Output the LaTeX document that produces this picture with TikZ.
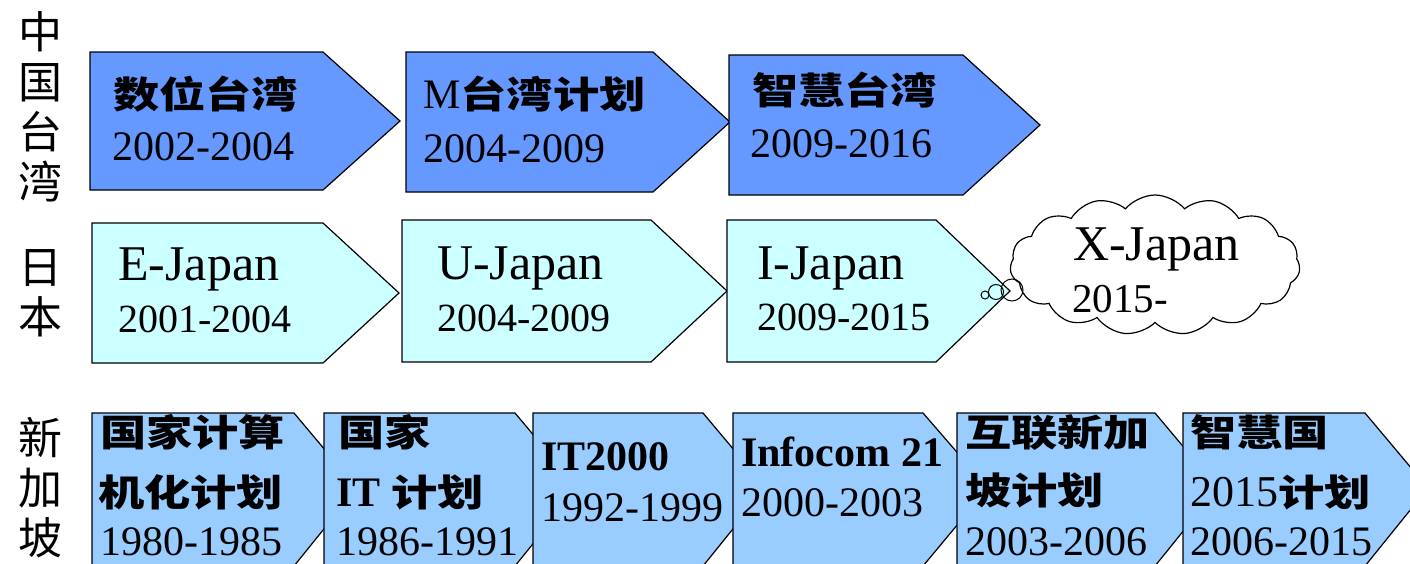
\documentclass[tikz,border=0pt]{standalone}
\usepackage{fontspec}
\setmainfont{Liberation Serif}
\newfontfamily\cjk{Noto Sans CJK SC}
\newfontfamily\cjkhead[FakeStretch=1.25]{Noto Sans CJK SC}
\usepackage{tikz}
\usetikzlibrary{shapes.symbols}
\definecolor{twblue}{HTML}{6699FF}
\definecolor{jpcyan}{HTML}{CCFFFF}
\definecolor{sgblue}{HTML}{99CCFF}
\tikzset{
  plan/.style={draw, line width=1.2pt, line join=miter},
  twbox/.style={plan, fill=twblue},
  jpbox/.style={plan, fill=jpcyan},
  sgbox/.style={plan, fill=sgblue},
  rowname/.style={align=center, inner sep=0pt, font=\fontsize{44}{50}\cjk},
  lbl/.style={anchor=base west, inner sep=0pt},
  headlbl/.style={lbl, font=\fontsize{37}{40}\cjkhead\bfseries},
  yearlbl/.style={lbl, font=\fontsize{42}{44}\selectfont},
  namelbl/.style={lbl, font=\fontsize{50}{52}\selectfont},
  boldlbl/.style={lbl, font=\fontsize{42}{44}\selectfont\bfseries},
  bubble/.style={circle, draw, line width=1pt, inner sep=0pt}
}

\begin{document}
\begin{tikzpicture}[x=1pt,y=-1pt]
\clip (0,0) rectangle (1410,563);

\node[rowname] (tw) at (40,107) {中\\国\\台\\湾};
\node[rowname] (jp) at (40,293) {日\\本};
\node[rowname] (sg) at (40,488) {新\\加\\坡};

\draw[twbox] (90,52) -- (323,52) -- (400,121) -- (323,190) -- (90,190) -- cycle;
\draw[twbox] (406,52) -- (653,52) -- (730,122) -- (653,192) -- (406,192) -- cycle;
\draw[twbox] (729,55) -- (963,55) -- (1040,125) -- (963,195) -- (729,195) -- cycle;

\node[headlbl] (tw1) at (113,108) {数位台湾};
\node[yearlbl] (tw1y) at (112,160) {2002-2004};
\node[headlbl] (tw2) at (423,108) {{\fontsize{42}{44}\rmfamily\mdseries M}台湾计划};
\node[yearlbl] (tw2y) at (423,162) {2004-2009};
\node[headlbl] (tw3) at (752,104) {智慧台湾};
\node[yearlbl] (tw3y) at (750,157) {2009-2016};

\draw[jpbox] (92,223) -- (323,223) -- (399,293) -- (323,363) -- (92,363) -- cycle;
\draw[jpbox] (402,220) -- (651,220) -- (727,291) -- (651,362) -- (402,362) -- cycle;
\draw[jpbox] (727,220) -- (936,220) -- (1010,291) -- (936,362) -- (727,362) -- cycle;

\node[namelbl] (jp1) at (118,280) {E-Japan};
\node[yearlbl, font=\fontsize{40}{42}\selectfont] (jp1y) at (118,332) {2001-2004};
\node[namelbl] (jp2) at (437,279) {U-Japan};
\node[yearlbl, font=\fontsize{40}{42}\selectfont] (jp2y) at (437,331) {2004-2009};
\node[namelbl] (jp3) at (757,279) {I-Japan};
\node[yearlbl, font=\fontsize{40}{42}\selectfont] (jp3y) at (757,330) {2009-2015};

\node[cloud, draw, fill=white, line width=1.2pt, cloud puffs=15, cloud puff arc=100,
      aspect=2.1, minimum width=290pt, minimum height=140pt] (xcloud) at (1155,265) {};
\node[bubble, minimum size=8pt] (bub1) at (985,295) {};
\node[bubble, minimum size=15pt] (bub2) at (996,292) {};
\node[bubble, minimum size=22pt] (bub3) at (1012,290) {};
\node[namelbl] (jp4) at (1073,260) {X-Japan};
\node[yearlbl, font=\fontsize{41}{43}\selectfont] (jp4y) at (1072,312) {2015-};

\draw[sgbox] (92,413) -- (294,413) -- (357,488) -- (294,566) -- (92,566) -- cycle;
\draw[sgbox] (324,413) -- (515,413) -- (578,488) -- (515,566) -- (324,566) -- cycle;
\draw[sgbox] (533,413) -- (703,413) -- (766,488) -- (703,566) -- (533,566) -- cycle;
\draw[sgbox] (733,413) -- (923,413) -- (988,488) -- (923,566) -- (733,566) -- cycle;
\draw[sgbox] (957,413) -- (1155,413) -- (1218,488) -- (1155,566) -- (957,566) -- cycle;
\draw[sgbox] (1183,413) -- (1365,413) -- (1428,488) -- (1365,566) -- (1183,566) -- cycle;

\node[headlbl] (sg1) at (100,446) {国家计算};
\node[headlbl] (sg1b) at (98,506) {机化计划};
\node[yearlbl] (sg1y) at (100,555) {1980-1985};
\node[headlbl] (sg2) at (338,446) {国家};
\node[headlbl] (sg2b) at (336,506) {{\fontsize{42}{44}\rmfamily IT} 计划};
\node[yearlbl] (sg2y) at (336,555) {1986-1991};
\node[boldlbl] (sg3) at (541,470) {IT2000};
\node[yearlbl] (sg3y) at (541,521) {1992-1999};
\node[boldlbl] (sg4) at (741,466) {Infocom 21};
\node[yearlbl] (sg4y) at (741,516) {2000-2003};
\node[headlbl] (sg5) at (965,446) {互联新加};
\node[headlbl] (sg5b) at (965,504) {坡计划};
\node[yearlbl] (sg5y) at (965,555) {2003-2006};
\node[headlbl] (sg6) at (1190,446) {智慧国};
\node[headlbl] (sg6b) at (1190,506) {{\fontsize{44}{46}\rmfamily\mdseries 2015}计划};
\node[yearlbl] (sg6y) at (1190,555) {2006-2015};
\end{tikzpicture}
\end{document}
